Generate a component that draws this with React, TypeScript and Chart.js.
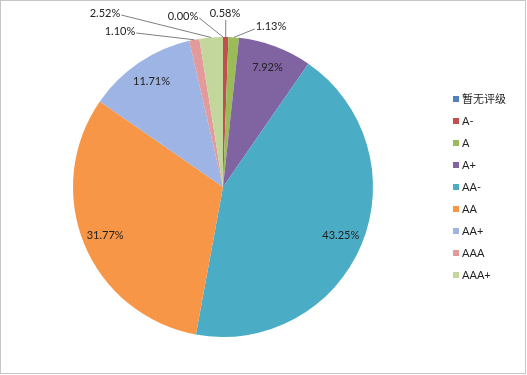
import React, { useEffect, useRef } from "react";
import { Chart, registerables } from "chart.js";

Chart.register(...registerables);

const categories = ["暂无评级", "A-", "A", "A+", "AA-", "AA", "AA+", "AAA", "AAA+"];
const shares = [0.0, 0.58, 1.13, 7.92, 43.25, 31.77, 11.71, 1.1, 2.52];
const colors = ["#4F81BD", "#C0504D", "#9BBB59", "#8064A2", "#4BACC6", "#F79646", "#9DB4E4", "#E29A9A", "#C3D69B"];
// label placement: null = inside (fraction of radius); otherwise text centre offset from pie centre
const insideRadius = 0.85;
const outsideLabelOffsets: ([number, number] | null)[] = [
  [-40, -171], [2, -174], [48, -161], null, null, null, null, [-103, -156], [-118, -174],
];

const FONT = "11px Lato, 'Noto Sans CJK SC', sans-serif";

const labelPlugin = {
  id: "sliceLabels",
  afterDatasetsDraw(chart: any) {
    const ctx = chart.ctx;
    const meta = chart.getDatasetMeta(0);
    ctx.save();
    ctx.font = FONT;
    ctx.textBaseline = "middle";
    meta.data.forEach((arc: any, i: number) => {
      const { x, y, startAngle, endAngle, outerRadius } = arc.getProps(["x", "y", "startAngle", "endAngle", "outerRadius"], true);
      const mid = (startAngle + endAngle) / 2;
      const text = shares[i].toFixed(2) + "%";
      const off = outsideLabelOffsets[i];
      ctx.fillStyle = "#222";
      if (!off) {
        const r = outerRadius * insideRadius;
        ctx.textAlign = "center";
        ctx.fillText(text, x + Math.cos(mid) * r, y + Math.sin(mid) * r);
      } else {
        const tx = x + off[0];
        const ty = y + off[1];
        const w = ctx.measureText(text).width;
        ctx.textAlign = "center";
        ctx.fillText(text, tx, ty);
        const ex = x + Math.cos(mid) * outerRadius;
        const ey = y + Math.sin(mid) * outerRadius;
        let lx: number, ly: number;
        if (Math.abs(ex - tx) < w / 2) {
          lx = tx + (ex - tx) * 0.5;
          lx = ex;
          ly = ty + 7;
        } else if (ex > tx) {
          lx = tx + w / 2 + 1;
          ly = ty + 2;
        } else {
          lx = tx - w / 2 - 1;
          ly = ty + 3;
        }
        ctx.strokeStyle = "#7f7f7f";
        ctx.lineWidth = 1;
        ctx.beginPath();
        ctx.moveTo(lx, ly);
        ctx.lineTo(ex, ey);
        ctx.stroke();
      }
    });
    ctx.restore();
  },
};

const legendPlugin = {
  id: "customLegend",
  afterDraw(chart: any) {
    const ctx = chart.ctx;
    ctx.save();
    ctx.font = FONT;
    ctx.textBaseline = "middle";
    ctx.textAlign = "left";
    const x0 = 453;
    const y0 = 99;
    const step = 22;
    categories.forEach((c, i) => {
      const y = y0 + i * step;
      ctx.fillStyle = colors[i];
      ctx.fillRect(x0, y - 3, 6, 6);
      ctx.fillStyle = "#222";
      ctx.fillText(c, x0 + 9, y);
    });
    // outer frame
    ctx.strokeStyle = "#8a8a8a";
    ctx.lineWidth = 1;
    ctx.setLineDash([1, 1]);
    ctx.strokeRect(0.5, 0.5, chart.width - 2, chart.height - 2);
    ctx.restore();
  },
};

export default function App() {
  const ref = useRef<HTMLCanvasElement>(null);
  useEffect(() => {
    document.body.style.margin = "0";
    const chart = new Chart(ref.current!, {
      type: "pie",
      data: {
        labels: categories,
        datasets: [{ data: shares, backgroundColor: colors, borderWidth: 0 }],
      },
      options: {
        animation: false,
        responsive: false,
        layout: { padding: { left: 73, right: 154, top: 37, bottom: 38 } },
        plugins: { legend: { display: false }, tooltip: { enabled: false } },
      },
      plugins: [labelPlugin, legendPlugin],
    });
    return () => chart.destroy();
  }, []);
  return (
    <div style={{ position: "absolute", left: 0, top: 0, width: 527, height: 375, background: "#fff" }}>
      <canvas ref={ref} width={527} height={375} style={{ width: 527, height: 375 }} />
    </div>
  );
}
